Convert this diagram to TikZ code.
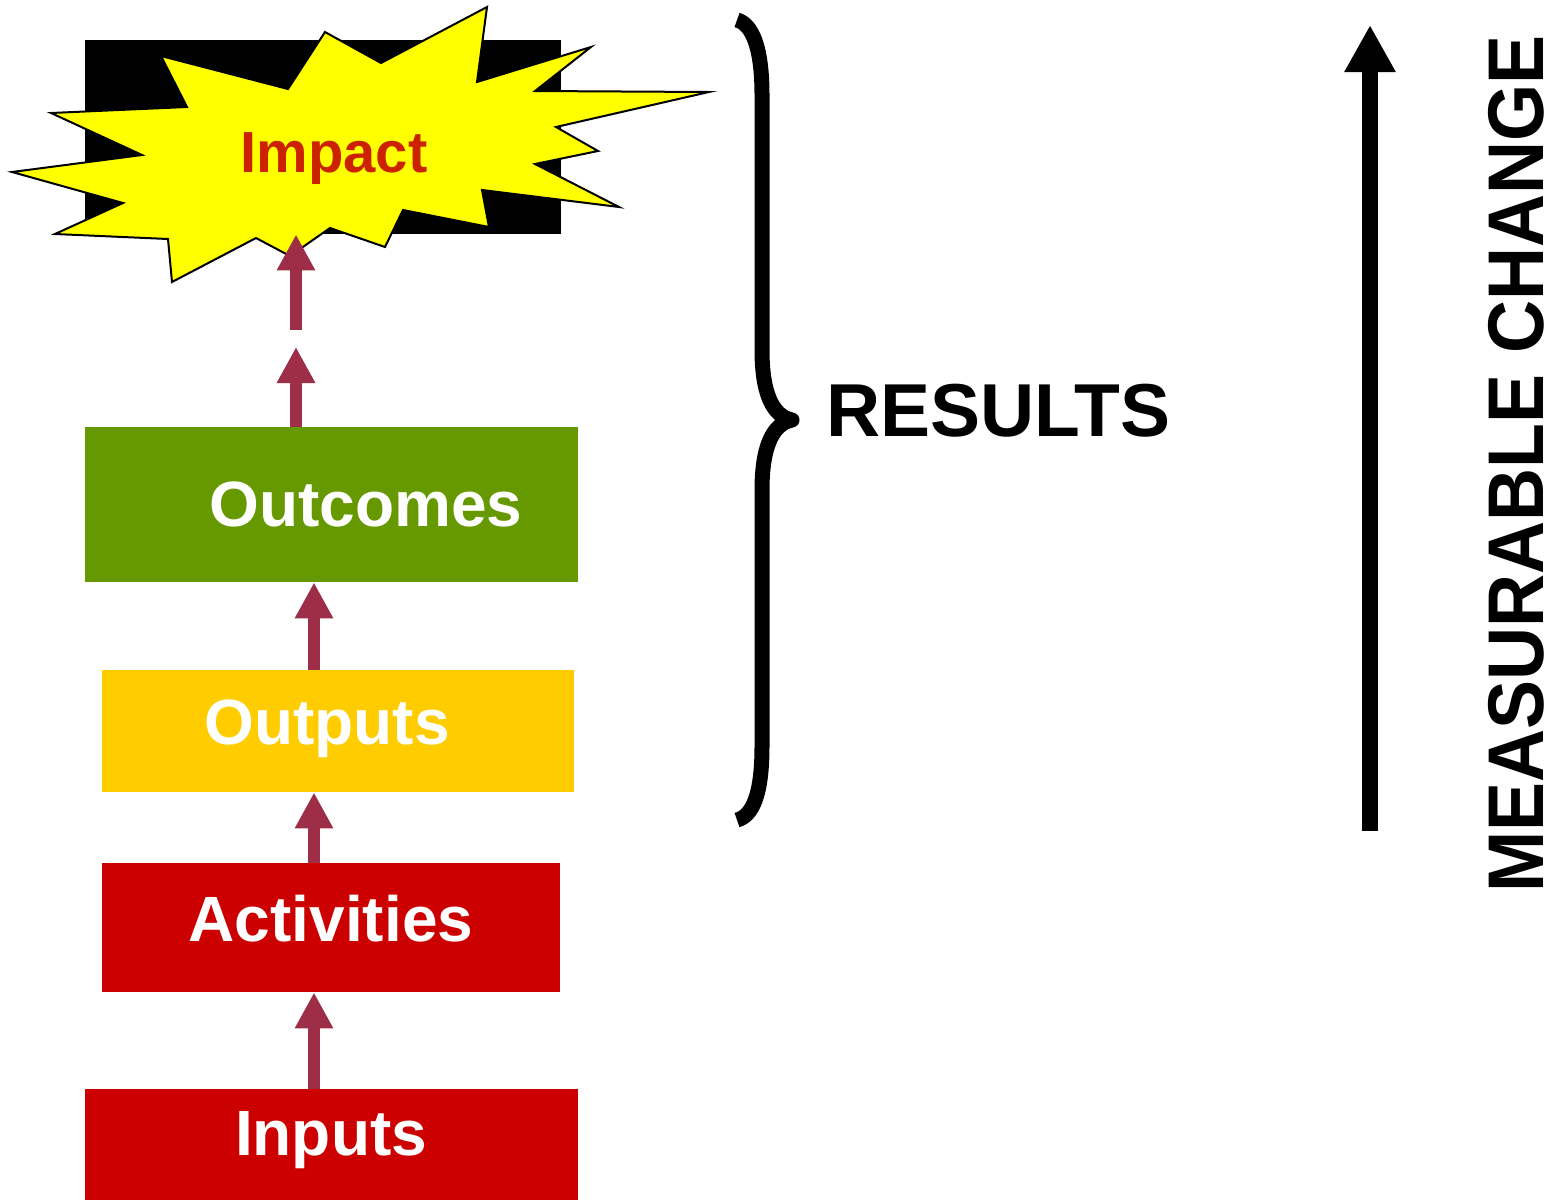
\documentclass[tikz,border=0pt]{standalone}
\usepackage{graphicx}
\usepackage{fontspec}
\setmainfont{Liberation Sans}
\usetikzlibrary{arrows.meta, calc}

\definecolor{outgreen}{RGB}{102,153,0}
\definecolor{outyellow}{RGB}{255,204,0}
\definecolor{stagered}{RGB}{204,0,0}
\definecolor{linkred}{RGB}{158,46,72}
\definecolor{impred}{RGB}{204,34,0}
\definecolor{burstyellow}{RGB}{255,255,0}

\begin{document}
\begin{tikzpicture}[x=1pt,y=-1pt,
    stage/.style={draw=none, inner sep=0pt, anchor=north west},
    stagetxt/.style={text=white, font=\fontsize{64}{70}\selectfont\bfseries, anchor=base, inner sep=0pt},
    link/.style={linkred, line width=12pt, -{Triangle[width=36pt,length=36pt]}}]
    \useasboundingbox (0,0) rectangle (1554,1200);
    % stages, bottom to top
    \foreach \name/\x/\y/\w/\h/\clr in {imp/85/40/476/194/black, outc/85/427/493/155/outgreen,
        outp/102/670/472/122/outyellow, act/102/863/458/129/stagered, inp/85/1089/493/111/stagered}{
        \node[stage, fill=\clr, minimum width=\w pt, minimum height=\h pt] (\name) at (\x,\y) {};
    }
    \filldraw[fill=burstyellow, draw=black, line width=2pt, line join=miter]
        (161,56) -- (187,107) -- (51,113) -- (142,155) -- (12,172) -- (123,203) -- (55,234)
        -- (168,239) -- (172,282) -- (256,238) -- (290,256) -- (330,228) -- (385,247)
        -- (403,210) -- (489,227) -- (482,190) -- (619,207) -- (535,164) -- (598,151)
        -- (556,127) -- (709,92) -- (535,91) -- (591,47) -- (477,82) -- (487,7)
        -- (381,63) -- (325,32) -- (288,89) -- cycle;
    \node[anchor=base, inner sep=0pt, text=impred, font=\fontsize{58}{60}\selectfont\bfseries] (imptxt) at (334,172) {Impact};
    \node[stagetxt] (outctxt) at (366,526) {Outcomes};
    \node[stagetxt] (outptxt) at (327,744) {Outputs};
    \node[stagetxt] (acttxt) at (331,941) {Activities};
    \node[stagetxt] (inptxt) at (331,1155) {Inputs};
    % links
    \coordinate (ax) at (314,0);
    \coordinate (bx) at (296,0);
    \foreach \a/\b in {inp/act, act/outp, outp/outc}{
        \draw[link] (\a.north -| ax) -- (\b.south -| ax);
    }
    \coordinate (gapA) at (296,347);
    \coordinate (gapB) at (296,330);
    \draw[link] (outc.north -| bx) -- (gapA);
    \draw[link] (gapB) -- (imp.south -| bx);
    % results brace
    \draw[line width=15pt, line join=round]
        (737,20) .. controls (752,24) and (762,47) .. (762,95) -- (762,350)
        .. controls (762,392) and (772,416) .. (792,420)
        .. controls (772,424) and (762,448) .. (762,490) -- (762,746)
        .. controls (762,796) and (752,816) .. (737,820);
    \node[anchor=base west, inner sep=0pt, font=\fontsize{75}{80}\selectfont\bfseries] (res) at (826,436) {RESULTS};
    % measurable change
    \coordinate (chlow) at (1370,831);
    \coordinate (chtop) at (1370,25);
    \draw[line width=16pt, -{Triangle[width=48pt,length=47pt]}] (chlow) -- (chtop);
    \node[rotate=90, anchor=base, inner sep=0pt, font=\fontsize{79}{90}\selectfont\bfseries] (chg) at (1543,464) {\scalebox{0.93}[1]{MEASURABLE CHANGE}};
\end{tikzpicture}
\end{document}
